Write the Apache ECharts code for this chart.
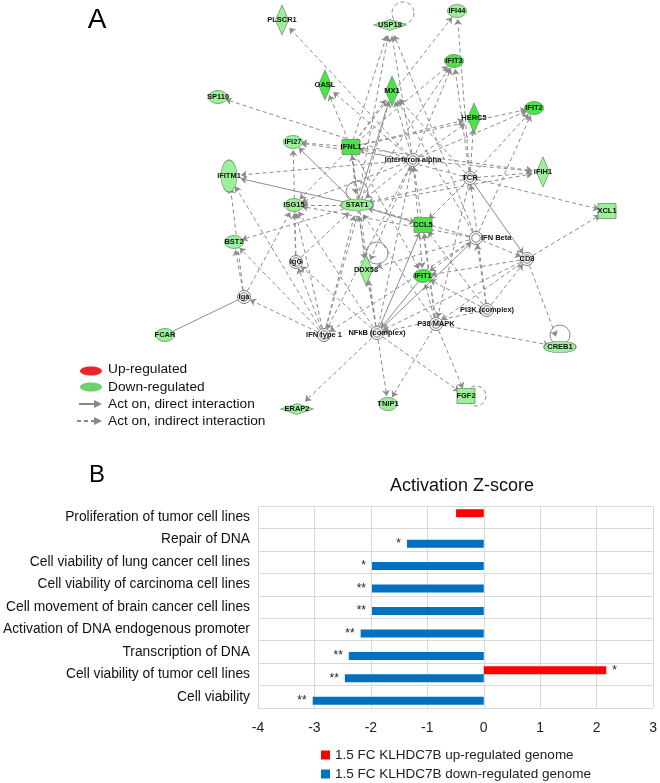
<!DOCTYPE html>
<html><head><meta charset="utf-8">
<script src="https://cdn.jsdelivr.net/npm/echarts@6/dist/echarts.min.js"></script>
<style>html,body{margin:0;padding:0;background:#fff}#c{width:660px;height:783px}</style>
</head><body><div id="c"></div>
<script>
// ---------- Panel B data ----------
const categories = ['Proliferation of tumor cell lines','Repair of DNA','Cell viability of lung cancer cell lines','Cell viability of carcinoma cell lines','Cell movement of brain cancer cell lines','Activation of DNA endogenous promoter','Transcription of DNA','Cell viability of tumor cell lines','Cell viability'];
const upValues   = [-0.49, null, null, null, null, null, null, 2.17, null];
const downValues = [null, -1.36, -1.98, -1.98, -1.98, -2.18, -2.39, -2.46, -3.03];
const upStars    = ['', '', '', '', '', '', '', '*', ''];
const downStars  = ['', '*', '*', '**', '**', '**', '**', '**', '**'];
const seriesNames = ['1.5 FC KLHDC7B up-regulated genome','1.5 FC KLHDC7B down-regulated genome'];
const zRange = [-4, 3];
const zStep = 1;
const chartTitle = 'Activation Z-score';

// ---------- Panel A data (network) ----------
const geneNames = ['PLSCR1','OASL','USP18','IFI44','IFIT3','MX1','SP110','HERC5','IFIT2','IFI27','IFNL1','Interferon alpha','IFITM1','TCR','IFIH1','ISG15','STAT1','XCL1','CCL5','IFN Beta','BST2','CD3','IgG','DDX58','IFIT1','Iga','PI3K (complex)','P38 MAPK','NFkB (complex)','IFN type 1','FCAR','CREB1','FGF2','TNIP1','ERAP2'];
const geneX = [282,325,390,457,454,392,218,474,534,293,351,413,229,470,543,294,357,607,423,476,234,527,296,366,423,244,487,436,377,324,165,560,466,388,297];
const geneY = [20,85,25,11,61,91,97,118,108,142,147,160,176,178,172,205,205,211,225,238,242,259,262,270,276,297,310,324,333,335,335,347,396,404,409];
const geneKind = ['diamond','diamond','diamondWide','ellipse','ellipse','diamond','ellipse','diamond','ellipse','ellipse','rect','complex','ellipseTall','complex','diamond','ellipse','ellipseWide','rect','rect','complex','ellipse','complex','complex','diamond','ellipse','complex','complex','complex','complex','complex','ellipse','ellipseWide','rect','ellipse','diamondWide'];
const geneTone = ['light','strong','light','light','strong','strong','light','strong','strong','light','strong','none','light','none','light','light','light','light','strong','none','light','none','none','light','strong','none','none','none','none','none','light','light','light','light','light'];
const directLinks = [['STAT1','IFITM1'],['STAT1','IFI27'],['STAT1','CCL5'],['STAT1','MX1'],['TCR','CD3'],['NFkB (complex)','CCL5'],['NFkB (complex)','IFN Beta'],['IFIT1','NFkB (complex)']];
const bindingLinks = [['Iga','FCAR']];
const indirectLinks = [
 ['Interferon alpha','PLSCR1'],['Interferon alpha','USP18'],['Interferon alpha','OASL'],['Interferon alpha','MX1'],['Interferon alpha','IFIT3'],['Interferon alpha','HERC5'],['Interferon alpha','IFIT2'],['Interferon alpha','IFIH1'],['Interferon alpha','IFI27'],['Interferon alpha','IFITM1'],['Interferon alpha','ISG15'],['Interferon alpha','STAT1'],['Interferon alpha','SP110'],['Interferon alpha','IFIT1'],['Interferon alpha','DDX58'],
 ['IFNL1','OASL'],['IFNL1','MX1'],['IFNL1','USP18'],['IFNL1','IFI44'],['IFNL1','IFIT3'],['IFNL1','HERC5'],['IFNL1','IFIT2'],['IFNL1','IFIH1'],['IFNL1','IFI27'],['IFNL1','ISG15'],['IFNL1','STAT1'],['IFNL1','IFIT1'],['IFNL1','DDX58'],
 ['TCR','IFI44'],['TCR','IFIT3'],['TCR','HERC5'],['TCR','IFIT2'],['TCR','IFIH1'],['TCR','XCL1'],['TCR','STAT1'],['TCR','IFNL1'],['TCR','MX1'],['TCR','CCL5'],['TCR','P38 MAPK'],
 ['IFN Beta','IFIT2'],['IFN Beta','MX1'],['IFN Beta','USP18'],['IFN Beta','ISG15'],['IFN Beta','STAT1'],['IFN Beta','IFIT1'],['IFN Beta','CD3'],['IFN Beta','DDX58'],['IFN Beta','IFN type 1'],
 ['CD3','XCL1'],['CD3','CREB1'],['CD3','NFkB (complex)'],['CD3','P38 MAPK'],['CD3','IFIT1'],
 ['STAT1','USP18'],['STAT1','IFIT3'],['STAT1','ISG15'],['STAT1','BST2'],['STAT1','IFIH1'],
 ['IgG','ISG15'],['IgG','STAT1'],['IgG','IFI27'],
 ['Iga','BST2'],['Iga','IFITM1'],['Iga','ISG15'],
 ['IFN type 1','Iga'],['IFN type 1','IgG'],['IFN type 1','ISG15'],['IFN type 1','STAT1'],['IFN type 1','IFITM1'],['IFN type 1','BST2'],['IFN type 1','MX1'],['Interferon alpha','IFN type 1'],
 ['NFkB (complex)','STAT1'],['NFkB (complex)','ISG15'],['NFkB (complex)','IFNL1'],['NFkB (complex)','TNIP1'],['NFkB (complex)','FGF2'],['NFkB (complex)','ERAP2'],['NFkB (complex)','DDX58'],['NFkB (complex)','IgG'],['NFkB (complex)','Interferon alpha'],
 ['P38 MAPK','TNIP1'],['P38 MAPK','FGF2'],['P38 MAPK','CREB1'],['P38 MAPK','STAT1'],['P38 MAPK','CCL5'],['P38 MAPK','IFIT1'],['P38 MAPK','Interferon alpha'],
 ['PI3K (complex)','NFkB (complex)'],['PI3K (complex)','IFN Beta'],['PI3K (complex)','CCL5'],['PI3K (complex)','IFIT1'],['PI3K (complex)','CD3'],['PI3K (complex)','TCR']
];
const selfLoops = ['USP18','STAT1','DDX58','FGF2','CREB1'];
const selfLoopDashed = [true, false, false, true, false];
const legendALabels = ['Up-regulated','Down-regulated','Act on, direct interaction','Act on, indirect interaction'];

// ---------- styles ----------
const RING = 'path://M10,0A10,10 0 1,1 -10,0A10,10 0 1,1 10,0ZM6.5,0A6.5,6.5 0 1,1 -6.5,0A6.5,6.5 0 1,1 6.5,0Z';
const kindStyle = {
  ellipse: {symbol:'circle', size:[19,13]},
  ellipseWide: {symbol:'circle', size:[32,12]},
  ellipseTall: {symbol:'circle', size:[16,32]},
  diamond: {symbol:'diamond', size:[13,30]},
  diamondWide: {symbol:'diamond', size:[33,11]},
  rect: {symbol:'rect', size:[18,15]},
  complex: {symbol:RING, size:[13,13]}
};
// loop placement relative to node: [dx, dy, r]
const loopPlacement = {USP18:[13,-12,11], STAT1:[0,-13,11], DDX58:[11,-17,11], FGF2:[10,0,10], CREB1:[0,-12,10]};
const toneColor = {light:'#9cf09a', strong:'#48e448', none:'#ffffff'};
const FONT = 'Liberation Sans, Arial, sans-serif';
const EDGE = '#8c8c8c';

const nodes = geneNames.map((n,i)=>{
  const k = kindStyle[geneKind[i]];
  const isComplex = geneKind[i]==='complex';
  const item = {
    name:n, value:[geneX[i], geneY[i]], symbol:k.symbol, symbolSize:k.size,
    itemStyle:{color:toneColor[geneTone[i]], borderColor: isComplex ? '#7a7a7a' : '#6f8f6f', borderWidth: isComplex ? 1 : 0.8}
  };
  if (n==='IFN Beta') item.label = {position:'right', distance:-2};
  return item;
});
const links = [];
indirectLinks.forEach(l=>links.push({source:l[0], target:l[1], lineStyle:{type:[4,3]}}));
directLinks.forEach(l=>links.push({source:l[0], target:l[1], lineStyle:{type:'solid'}}));
bindingLinks.forEach(l=>links.push({source:l[0], target:l[1], symbol:['none','none'], lineStyle:{type:'solid'}}));

const loopData = selfLoops.map((n,j)=>{ const i = geneNames.indexOf(n); return [geneX[i], geneY[i], j]; });

const chart = echarts.init(document.getElementById('c'), null, {renderer:'canvas'});
chart.setOption({
  animation:false,
  backgroundColor:'#fff',
  textStyle:{fontFamily:FONT},
  grid:[
    {left:0, right:0, top:0, bottom:0, show:false},
    {left:254, right:6, top:506, bottom:75, show:false}
  ],
  xAxis:[
    {gridIndex:0, type:'value', min:0, max:660, show:false},
    {gridIndex:1, type:'value', min:zRange[0], max:zRange[1], interval:zStep,
     axisLine:{show:false}, axisTick:{show:false},
     axisLabel:{fontSize:14, color:'#222', margin:13, fontFamily:FONT},
     splitLine:{show:true, lineStyle:{color:'#d9d9d9', width:1}}}
  ],
  yAxis:[
    {gridIndex:0, type:'value', min:0, max:783, inverse:true, show:false},
    {gridIndex:1, type:'category', data:categories, inverse:true,
     axisLine:{show:false}, axisTick:{show:false},
     axisLabel:{fontSize:13.8, color:'#111', margin:8, fontFamily:FONT},
     splitLine:{show:true, interval:0, lineStyle:{color:'#d9d9d9', width:1}}}
  ],
  legend:[
    {data:[seriesNames[0]], left:321, top:748, padding:0, itemWidth:9, itemHeight:9, icon:'rect',
     textStyle:{fontSize:13.5, color:'#222', fontFamily:FONT}},
    {data:[seriesNames[1]], left:321, top:767, padding:0, itemWidth:9, itemHeight:9, icon:'rect',
     textStyle:{fontSize:13.5, color:'#222', fontFamily:FONT}}
  ],
  graphic:[
    {type:'text', x:97, y:20, style:{text:'A', font:'28px '+FONT, fill:'#000', textAlign:'center', textVerticalAlign:'middle'}},
    {type:'text', x:97, y:475, style:{text:'B', font:'24px '+FONT, fill:'#000', textAlign:'center', textVerticalAlign:'middle'}},
    {type:'text', x:462, y:486, style:{text:chartTitle, font:'18px '+FONT, fill:'#111', textAlign:'center', textVerticalAlign:'middle'}},
    {type:'ellipse', shape:{cx:91, cy:371, rx:11, ry:4.5}, style:{fill:'#e8262a'}},
    {type:'ellipse', shape:{cx:91, cy:387, rx:11, ry:4.5}, style:{fill:'#6cd06c'}},
    {type:'line', shape:{x1:79, y1:404, x2:95, y2:404}, style:{stroke:'#888', lineWidth:2}},
    {type:'polygon', shape:{points:[[94,400],[102,404],[94,408]]}, style:{fill:'#888'}},
    {type:'line', shape:{x1:77, y1:421, x2:95, y2:421}, style:{stroke:'#888', lineWidth:2, lineDash:[4,3]}},
    {type:'polygon', shape:{points:[[94,417],[102,421],[94,425]]}, style:{fill:'#888'}},
    {type:'text', x:108, y:369, style:{text:legendALabels[0], font:'13.7px '+FONT, fill:'#111', textVerticalAlign:'middle'}},
    {type:'text', x:108, y:387, style:{text:legendALabels[1], font:'13.7px '+FONT, fill:'#111', textVerticalAlign:'middle'}},
    {type:'text', x:108, y:404, style:{text:legendALabels[2], font:'13.7px '+FONT, fill:'#111', textVerticalAlign:'middle'}},
    {type:'text', x:108, y:421, style:{text:legendALabels[3], font:'13.7px '+FONT, fill:'#111', textVerticalAlign:'middle'}}
  ],
  series:[
    {
      type:'custom', coordinateSystem:'cartesian2d', xAxisIndex:0, yAxisIndex:0, z:1, silent:true,
      data:loopData,
      renderItem:(params, api)=>{
        const j = api.value(2);
        const p = api.coord([api.value(0), api.value(1)]);
        const o = loopPlacement[selfLoops[j]];
        return {type:'circle', shape:{cx:p[0]+o[0], cy:p[1]+o[1], r:o[2]},
                style:{fill:'none', stroke:EDGE, lineWidth:1, lineDash: selfLoopDashed[j] ? [4,3] : null}};
      }
    },
    {
      type:'graph', coordinateSystem:'cartesian2d', xAxisIndex:0, yAxisIndex:0, z:2,
      data:nodes, links:links, roam:false,
      edgeSymbol:['none','arrow'], edgeSymbolSize:[0,6],
      lineStyle:{color:EDGE, width:1, opacity:1},
      label:{show:true, position:'inside', fontSize:7.5, fontWeight:'bold', color:'#111', fontFamily:FONT},
      emphasis:{disabled:true}
    },
    {
      name:seriesNames[0], type:'bar', xAxisIndex:1, yAxisIndex:1, data:upValues,
      barWidth:8, barGap:'0%', itemStyle:{color:'#ff0000'},
      label:{show:true, position:'right', distance:6, fontSize:12, color:'#222',
             formatter:p=>upStars[p.dataIndex]}
    },
    {
      name:seriesNames[1], type:'bar', xAxisIndex:1, yAxisIndex:1, data:downValues,
      barWidth:8, barGap:'0%', itemStyle:{color:'#0070c0'},
      label:{show:true, position:'left', distance:6, fontSize:12, color:'#222',
             formatter:p=>downStars[p.dataIndex]}
    }
  ]
});
</script></body></html>
